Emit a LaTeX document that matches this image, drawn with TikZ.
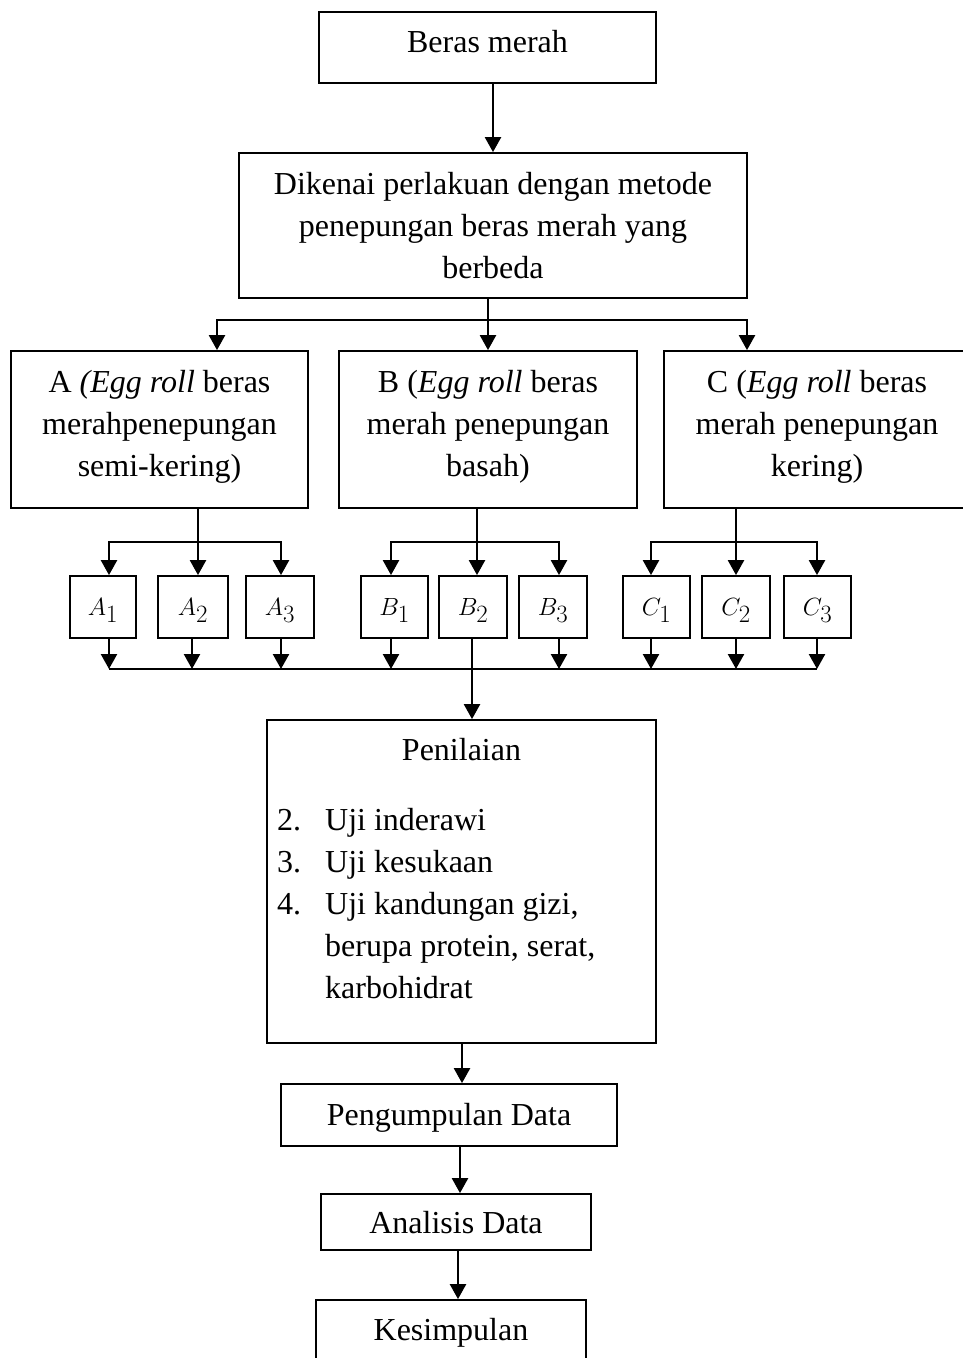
\documentclass[tikz,border=0pt]{standalone}
\usepackage{fontspec}
\setmainfont{Liberation Serif}
\usetikzlibrary{arrows.meta}
\newcommand{\lowpad}{\rule[-13pt]{0pt}{0pt}}
\tikzset{
  box/.style={draw, line width=1.8pt, inner sep=0pt, align=center, font=\fontsize{32}{42}\selectfont},
  sbox/.style={draw, line width=1.8pt, inner sep=0pt, minimum height=62pt, text height=22pt, text depth=5pt, font=\fontsize{33}{42}\selectfont},
  txt/.style={inner sep=0pt, anchor=base west, font=\fontsize{32}{42}\selectfont},
  conn/.style={line width=2.4pt},
  arr/.style={conn, -{Triangle[length=15pt,width=16pt]}},
}
\begin{document}
\begin{tikzpicture}[x=1pt,y=-1pt]
\useasboundingbox (0,0) rectangle (963,1358);
% main boxes
\node[box, minimum width=337pt, minimum height=71pt, text height=22pt, text depth=13pt] (beras) at (487.5,47.5) {Beras merah};
\node[box, minimum width=508pt, minimum height=145pt] (dik) at (493,225.5) {Dikenai perlakuan dengan metode\\penepungan beras merah yang\\berbeda};
\node[box, minimum width=297pt, minimum height=157pt] (A) at (159.5,429.5) {A \textit{(Egg roll} beras\\merahpenepungan\\semi-kering)\lowpad};
\node[box, minimum width=298pt, minimum height=157pt] (B) at (488,429.5) {B (\textit{Egg roll} beras\\merah penepungan\\basah)\lowpad};
\node[box, minimum width=306pt, minimum height=157pt] (C) at (817,429.5) {C (\textit{Egg roll} beras\\merah penepungan\\kering)\lowpad};
% small boxes
\node[sbox, minimum width=66pt] (A1) at (103,607) {$A_1$};
\node[sbox, minimum width=70pt] (A2) at (193,607) {$A_2$};
\node[sbox, minimum width=68pt] (A3) at (280,607) {$A_3$};
\node[sbox, minimum width=67pt] (B1) at (394.5,607) {$B_1$};
\node[sbox, minimum width=68pt] (B2) at (473,607) {$B_2$};
\node[sbox, minimum width=68pt] (B3) at (553,607) {$B_3$};
\node[sbox, minimum width=67pt] (C1) at (656.5,607) {$C_1$};
\node[sbox, minimum width=68pt] (C2) at (736,607) {$C_2$};
\node[sbox, minimum width=67pt] (C3) at (817.5,607) {$C_3$};
% Penilaian
\node[draw, line width=1.8pt, inner sep=0pt, minimum width=389pt, minimum height=323pt] (pen) at (461.5,881.5) {};
\node[txt, anchor=base] (pent) at (461.5,760) {Penilaian};
\node[txt] (n2) at (277,830) {2.};
\node[txt] (i2) at (325,830) {Uji inderawi};
\node[txt] (n3) at (277,872) {3.};
\node[txt] (i3) at (325,872) {Uji kesukaan};
\node[txt] (n4) at (277,914) {4.};
\node[txt] (i4) at (325,914) {Uji kandungan gizi,};
\node[txt] (i4b) at (325,956) {berupa protein, serat,};
\node[txt] (i4c) at (325,998) {karbohidrat};
% lower boxes
\node[box, minimum width=336pt, minimum height=62pt, text height=22pt, text depth=2pt] (peng) at (449,1115) {Pengumpulan Data};
\node[box, minimum width=270pt, minimum height=56pt, text height=22pt, text depth=-7pt] (anal) at (456,1222) {Analisis Data};
\node[box, minimum width=270pt, minimum height=70pt, text height=22pt, text depth=11pt] (kes) at (451,1335) {Kesimpulan};
% connectors
\draw[arr] ([xshift=5.5pt]beras.south) -- ([xshift=5.5pt]beras.south |- dik.north);
\coordinate (j1) at (488,320);
\draw[conn] ([xshift=-5pt]dik.south) -- (j1);
\draw[arr] (j1) -- (B.north);
\draw[arr] (j1) -| ([xshift=57.5pt]A.north);
\draw[arr] (j1) -| ([xshift=-70pt]C.north);
% row A
\coordinate (jA) at (198,542);
\draw[conn] (A.south -| jA) -- (jA);
\draw[arr] (jA) -- ([xshift=5pt]A2.north);
\draw[arr] (jA) -| ([xshift=6pt]A1.north);
\draw[arr] (jA) -| ([xshift=1pt]A3.north);
% row B
\coordinate (jB) at (477,542);
\draw[conn] (B.south -| jB) -- (jB);
\draw[arr] (jB) -- ([xshift=4pt]B2.north);
\draw[arr] (jB) -| ([xshift=-3.5pt]B1.north);
\draw[arr] (jB) -| ([xshift=6pt]B3.north);
% row C
\coordinate (jC) at (736,542);
\draw[conn] (C.south -| jC) -- (jC);
\draw[arr] (jC) -- (C2.north);
\draw[arr] (jC) -| ([xshift=-5.5pt]C1.north);
\draw[arr] (jC) -| ([xshift=-0.5pt]C3.north);
% bottom collector
\coordinate (bot) at (0,669);
\foreach \n/\s in {A1/6,A2/-1,A3/1,B1/-3.5,B3/6,C1/-5.5,C2/0,C3/-0.5}{
  \draw[arr] ([xshift=\s pt]\n.south) -- ([xshift=\s pt]\n.south |- bot);
}
\draw[conn] ([xshift=6pt]A1.south |- bot) -- ([xshift=-0.5pt]C3.south |- bot);
\draw[arr] ([xshift=-1pt]B2.south) -- ([xshift=-1pt]B2.south |- pen.north);
% lower chain
\draw[arr] ([xshift=0.5pt]pen.south) -- ([xshift=0.5pt]pen.south |- peng.north);
\draw[arr] ([xshift=11pt]peng.south) -- ([xshift=11pt]peng.south |- anal.north);
\draw[arr] ([xshift=2pt]anal.south) -- ([xshift=2pt]anal.south |- kes.north);
\end{tikzpicture}
\end{document}
